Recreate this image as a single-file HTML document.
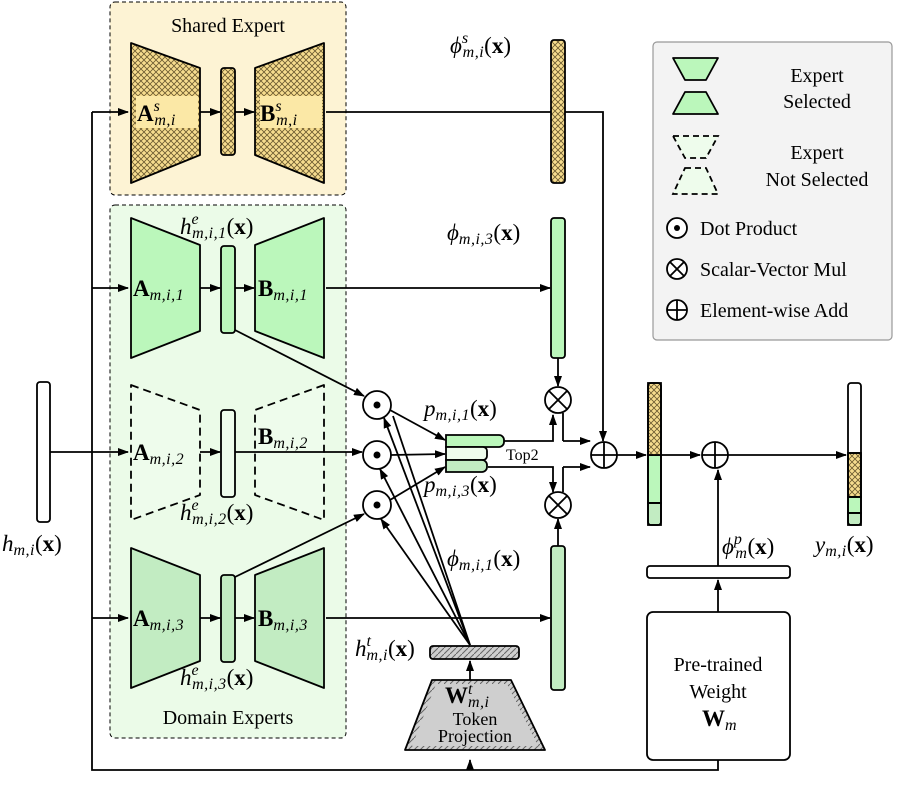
<!DOCTYPE html>
<html><head><meta charset="utf-8"><style>
html,body{margin:0;padding:0;background:#fff}
svg{display:block}
text{font-family:"Liberation Serif",serif;fill:#000}
.m{font-style:italic;font-size:23px}
.b{font-weight:bold;font-style:normal}
.s{font-size:16px;letter-spacing:0.5px}
.t{font-size:20px}
</style></head><body>
<svg width="897" height="787" viewBox="0 0 897 787" xmlns="http://www.w3.org/2000/svg">
<defs>
<marker id="ar" markerWidth="11" markerHeight="8" refX="10" refY="4" orient="auto" markerUnits="userSpaceOnUse"><path d="M0,0 L11,4 L0,8 z" fill="#000"/></marker>
<pattern id="ch" width="6" height="6" patternUnits="userSpaceOnUse"><rect width="6" height="6" fill="#f6dc8e"/><path d="M0,0 L6,6 M6,0 L0,6" stroke="#6b5a30" stroke-width="0.8"/></pattern>
<pattern id="gh" width="6" height="6" patternUnits="userSpaceOnUse"><rect width="6" height="6" fill="#cfcfcf"/><path d="M0,6 L6,0" stroke="#666" stroke-width="1"/></pattern>
</defs>
<g stroke="#000" fill="none" stroke-width="1.8">
<rect x="110" y="2" width="236" height="193" rx="5" fill="#fdf3d4" stroke-dasharray="4,3" stroke-width="1"/>
<rect x="110" y="205" width="236" height="533" rx="5" fill="#ebfbe8" stroke-dasharray="4,3" stroke-width="1"/>
<rect x="653" y="42" width="239" height="298" rx="4" fill="#f3f3f3" stroke="#999" stroke-width="1.2"/>
<path d="M92,112 V770 H718 V622" marker-end="url(#ar)"/>
<path d="M470,770 V760" marker-end="url(#ar)"/>
<path d="M92,112 H128" marker-end="url(#ar)"/>
<path d="M92,288 H128" marker-end="url(#ar)"/>
<path d="M92,618 H128" marker-end="url(#ar)"/>
<path d="M50,452 H128" marker-end="url(#ar)"/>
<path d="M326,112 H603 V441" marker-end="url(#ar)"/>
<path d="M326,288 H550" marker-end="url(#ar)"/>
<path d="M326,618 H550" marker-end="url(#ar)"/>
<path d="M200,112 H220" marker-end="url(#ar)"/><path d="M235,112 H254" marker-end="url(#ar)"/>
<path d="M200,288 H220" marker-end="url(#ar)"/><path d="M235,288 H254" marker-end="url(#ar)"/>
<path d="M200,618 H220" marker-end="url(#ar)"/><path d="M235,618 H254" marker-end="url(#ar)"/>
<path d="M200,452 H220" marker-end="url(#ar)"/>
<path d="M131,43 L200,68 V155 L131,183 Z" fill="url(#ch)" stroke-linejoin="round"/>
<path d="M324,43 L255,68 V155 L324,183 Z" fill="url(#ch)" stroke-linejoin="round"/>
<rect x="221" y="68" width="14" height="87" rx="3" fill="url(#ch)"/>
<rect x="136" y="96" width="62" height="32" fill="#fbe8a6" stroke="none"/>
<rect x="260" y="96" width="62" height="32" fill="#fbe8a6" stroke="none"/>
<path d="M131,218 L200,245 V331 L131,358 Z" fill="#bbf7bb" stroke-linejoin="round"/>
<path d="M324,218 L255,245 V331 L324,358 Z" fill="#bbf7bb" stroke-linejoin="round"/>
<rect x="221" y="246" width="14" height="87" rx="3" fill="#bbf7bb"/>
<path d="M131,385 L200,410 V495 L131,520 Z" fill="#eefcec" stroke-dasharray="8,5" stroke-linejoin="round"/>
<path d="M324,385 L255,410 V495 L324,520 Z" fill="#eefcec" stroke-dasharray="8,5" stroke-linejoin="round"/>
<rect x="221" y="410" width="14" height="87" rx="3" fill="#eefcec"/>
<path d="M235,452 H362" marker-end="url(#ar)"/>
<path d="M131,548 L200,575 V661 L131,688 Z" fill="#c2ecc2" stroke-linejoin="round"/>
<path d="M324,548 L255,575 V661 L324,688 Z" fill="#c2ecc2" stroke-linejoin="round"/>
<rect x="221" y="575" width="14" height="87" rx="3" fill="#c2ecc2"/>
<rect x="37" y="382" width="13" height="140" rx="3" fill="#fff"/>
<rect x="551" y="40" width="14" height="143" rx="3" fill="url(#ch)"/>
<rect x="551" y="218" width="14" height="140" rx="3" fill="#bbf7bb"/>
<rect x="551" y="546" width="14" height="144" rx="3" fill="#c2ecc2"/>
<path d="M558,358 V386" marker-end="url(#ar)"/>
<path d="M558,546 V519" marker-end="url(#ar)"/>
<circle cx="377" cy="405" r="14" fill="#fff"/><circle cx="377" cy="455" r="14" fill="#fff"/><circle cx="377" cy="505" r="14" fill="#fff"/>
<path d="M235,330 L364,396" marker-end="url(#ar)"/>
<path d="M235,577 L364,514" marker-end="url(#ar)"/>
<path d="M470,645 L384,418" marker-end="url(#ar)"/>
<path d="M470,645 L380,469" marker-end="url(#ar)"/>
<path d="M470,645 L381,519" marker-end="url(#ar)"/>
<path d="M470,645 L393,416"/>
<path d="M390,410 L445,440" marker-end="url(#ar)"/>
<path d="M391,455 L445,454" marker-end="url(#ar)"/>
<path d="M390,500 L445,467" marker-end="url(#ar)"/>
<path d="M503,441 H553 V415" marker-end="url(#ar)"/>
<path d="M563,441 H590" marker-end="url(#ar)"/>
<path d="M488,467 H553 V492" marker-end="url(#ar)"/>
<path d="M563,467 H590" marker-end="url(#ar)"/>
<path d="M563,413 V441 M563,467 V492"/>
<path d="M446,435 H499 a5,5 0 0 1 5,5 v2 a5,5 0 0 1 -5,5 H446 Z" fill="#bbf7bb"/>
<path d="M446,447 H483 a4,4 0 0 1 4,4 v5 a4,4 0 0 1 -4,4 H446 Z" fill="#eefcec"/>
<path d="M446,460 H482 a5,5 0 0 1 5,5 v2 a5,5 0 0 1 -5,5 H446 Z" fill="#c2ecc2"/>
<circle cx="558" cy="400" r="13" fill="#fff"/><path d="M549,391 L567,409 M567,391 L549,409"/>
<circle cx="558" cy="505" r="13" fill="#fff"/><path d="M549,496 L567,514 M567,496 L549,514"/>
<circle cx="604" cy="455" r="13" fill="#fff"/><path d="M591,455 H617 M604,442 V468"/>
<path d="M617,455 H646" marker-end="url(#ar)"/>
<rect x="648" y="455" width="13" height="48" fill="#bbf7bb"/>
<rect x="648" y="503" width="13" height="22" fill="#c2ecc2"/>
<rect x="648" y="383" width="13" height="72" fill="url(#ch)"/>
<rect x="648" y="383" width="13" height="142" rx="3"/>
<path d="M661,455 H700" marker-end="url(#ar)"/>
<circle cx="715" cy="455" r="13" fill="#fff"/><path d="M702,455 H728 M715,442 V468"/>
<path d="M728,455 H846" marker-end="url(#ar)"/>
<rect x="848" y="453" width="13" height="44" fill="url(#ch)"/>
<rect x="848" y="497" width="13" height="16" fill="#bbf7bb"/>
<rect x="848" y="513" width="13" height="12" fill="#c2ecc2"/>
<path d="M848,453 H861 M848,497 H861 M848,513 H861"/>
<rect x="848" y="383" width="13" height="142" rx="3"/>
<path d="M648,503 H661"/>
<path d="M718,566 V470" marker-end="url(#ar)"/>
<rect x="647" y="566" width="143" height="12" rx="3" fill="#fff"/>
<path d="M718,612 V580" marker-end="url(#ar)"/>
<rect x="647" y="612" width="143" height="148" rx="6" fill="#fff"/>
<rect x="430" y="646" width="89" height="13" rx="3" fill="url(#gh)"/>
<path d="M470,680 V661" marker-end="url(#ar)"/>
<path d="M432,680 H511 L545,750 H405 Z" fill="url(#gh)" stroke-linejoin="round"/>
<path d="M436,684 H507 L538,746 H412 Z" fill="#cfcfcf" stroke="none"/>
<path d="M673,58 H718 L706,80 H685 Z" fill="#bbf7bb" stroke-linejoin="round"/>
<path d="M685,92 H706 L718,114 H673 Z" fill="#bbf7bb" stroke-linejoin="round"/>
<path d="M673,136 H718 L706,158 H685 Z" fill="#eefcec" stroke-dasharray="6,4"/>
<path d="M685,168 H706 L718,194 H673 Z" fill="#eefcec" stroke-dasharray="6,4"/>
<circle cx="677" cy="228" r="10" fill="#fff"/>
<circle cx="677" cy="269" r="10" fill="#fff"/><path d="M670,262 L684,276 M684,262 L670,276"/>
<circle cx="677" cy="310" r="10" fill="#fff"/><path d="M667,310 H687 M677,300 V320"/>
</g>
<g fill="#000">
<circle cx="377" cy="405" r="3.5"/><circle cx="377" cy="455" r="3.5"/><circle cx="377" cy="505" r="3.5"/><circle cx="677" cy="228" r="3"/>
</g>
<text x="228" y="32" class="t" text-anchor="middle">Shared Expert</text>
<text x="228" y="724" class="t" text-anchor="middle">Domain Experts</text>
<text x="137" y="121" class="m"><tspan class="b">A</tspan><tspan class="s" dy="-10">s</tspan><tspan class="s" dx="-6" dy="14">m,i</tspan></text>
<text x="260" y="121" class="m"><tspan class="b">B</tspan><tspan class="s" dy="-10">s</tspan><tspan class="s" dx="-6" dy="14">m,i</tspan></text>
<text x="133" y="296" class="m"><tspan class="b">A</tspan><tspan class="s" dy="4">m,i,1</tspan></text>
<text x="258" y="296" class="m"><tspan class="b">B</tspan><tspan class="s" dy="4">m,i,1</tspan></text>
<text x="133" y="460" class="m"><tspan class="b">A</tspan><tspan class="s" dy="4">m,i,2</tspan></text>
<text x="258" y="444" class="m"><tspan class="b">B</tspan><tspan class="s" dy="4">m,i,2</tspan></text>
<text x="133" y="626" class="m"><tspan class="b">A</tspan><tspan class="s" dy="4">m,i,3</tspan></text>
<text x="258" y="626" class="m"><tspan class="b">B</tspan><tspan class="s" dy="4">m,i,3</tspan></text>
<text x="180" y="234" class="m">h<tspan class="s" dy="-10">e</tspan><tspan class="s" dx="-7" dy="14">m,i,1</tspan><tspan dy="-4" font-style="normal">(<tspan class="b">x</tspan>)</tspan></text>
<text x="180" y="520" class="m">h<tspan class="s" dy="-10">e</tspan><tspan class="s" dx="-7" dy="14">m,i,2</tspan><tspan dy="-4" font-style="normal">(<tspan class="b">x</tspan>)</tspan></text>
<text x="180" y="685" class="m">h<tspan class="s" dy="-10">e</tspan><tspan class="s" dx="-7" dy="14">m,i,3</tspan><tspan dy="-4" font-style="normal">(<tspan class="b">x</tspan>)</tspan></text>
<text x="2" y="551" class="m">h<tspan class="s" dy="4">m,i</tspan><tspan dy="-4" font-style="normal">(<tspan class="b">x</tspan>)</tspan></text>
<text x="450" y="53" class="m">ϕ<tspan class="s" dy="-10">s</tspan><tspan class="s" dx="-6" dy="14">m,i</tspan><tspan dy="-4" font-style="normal">(<tspan class="b">x</tspan>)</tspan></text>
<text x="447" y="240" class="m">ϕ<tspan class="s" dy="4">m,i,3</tspan><tspan dy="-4" font-style="normal">(<tspan class="b">x</tspan>)</tspan></text>
<text x="447" y="566" class="m">ϕ<tspan class="s" dy="4">m,i,1</tspan><tspan dy="-4" font-style="normal">(<tspan class="b">x</tspan>)</tspan></text>
<text x="424" y="416" class="m">p<tspan class="s" dy="4">m,i,1</tspan><tspan dy="-4" font-style="normal">(<tspan class="b">x</tspan>)</tspan></text>
<text x="424" y="492" class="m">p<tspan class="s" dy="4">m,i,3</tspan><tspan dy="-4" font-style="normal">(<tspan class="b">x</tspan>)</tspan></text>
<text x="506" y="460" font-size="16">Top2</text>
<text x="722" y="554" class="m">ϕ<tspan class="s" dy="-10">p</tspan><tspan class="s" dx="-7" dy="14">m</tspan><tspan dy="-4" font-style="normal">(<tspan class="b">x</tspan>)</tspan></text>
<text x="815" y="552" class="m">y<tspan class="s" dy="4">m,i</tspan><tspan dy="-4" font-style="normal">(<tspan class="b">x</tspan>)</tspan></text>
<text x="355" y="656" class="m">h<tspan class="s" dy="-10">t</tspan><tspan class="s" dx="-5" dy="14">m,i</tspan><tspan dy="-4" font-style="normal">(<tspan class="b">x</tspan>)</tspan></text>
<text x="445" y="703" class="m"><tspan class="b">W</tspan><tspan class="s" dy="-9">t</tspan><tspan class="s" dx="-5" dy="13">m,i</tspan></text>
<text x="475" y="725" font-size="18" text-anchor="middle">Token</text>
<text x="475" y="742" font-size="18" text-anchor="middle">Projection</text>
<text x="718" y="671" class="t" text-anchor="middle">Pre-trained</text>
<text x="718" y="698" class="t" text-anchor="middle">Weight</text>
<text x="702" y="726" class="m"><tspan class="b">W</tspan><tspan class="s" dy="4">m</tspan></text>
<text x="817" y="82" class="t" text-anchor="middle">Expert</text>
<text x="817" y="108" class="t" text-anchor="middle">Selected</text>
<text x="817" y="159" class="t" text-anchor="middle">Expert</text>
<text x="817" y="186" class="t" text-anchor="middle">Not Selected</text>
<text x="700" y="235" class="t">Dot Product</text>
<text x="700" y="276" class="t">Scalar-Vector Mul</text>
<text x="700" y="317" class="t">Element-wise Add</text>
</svg>
</body></html>
